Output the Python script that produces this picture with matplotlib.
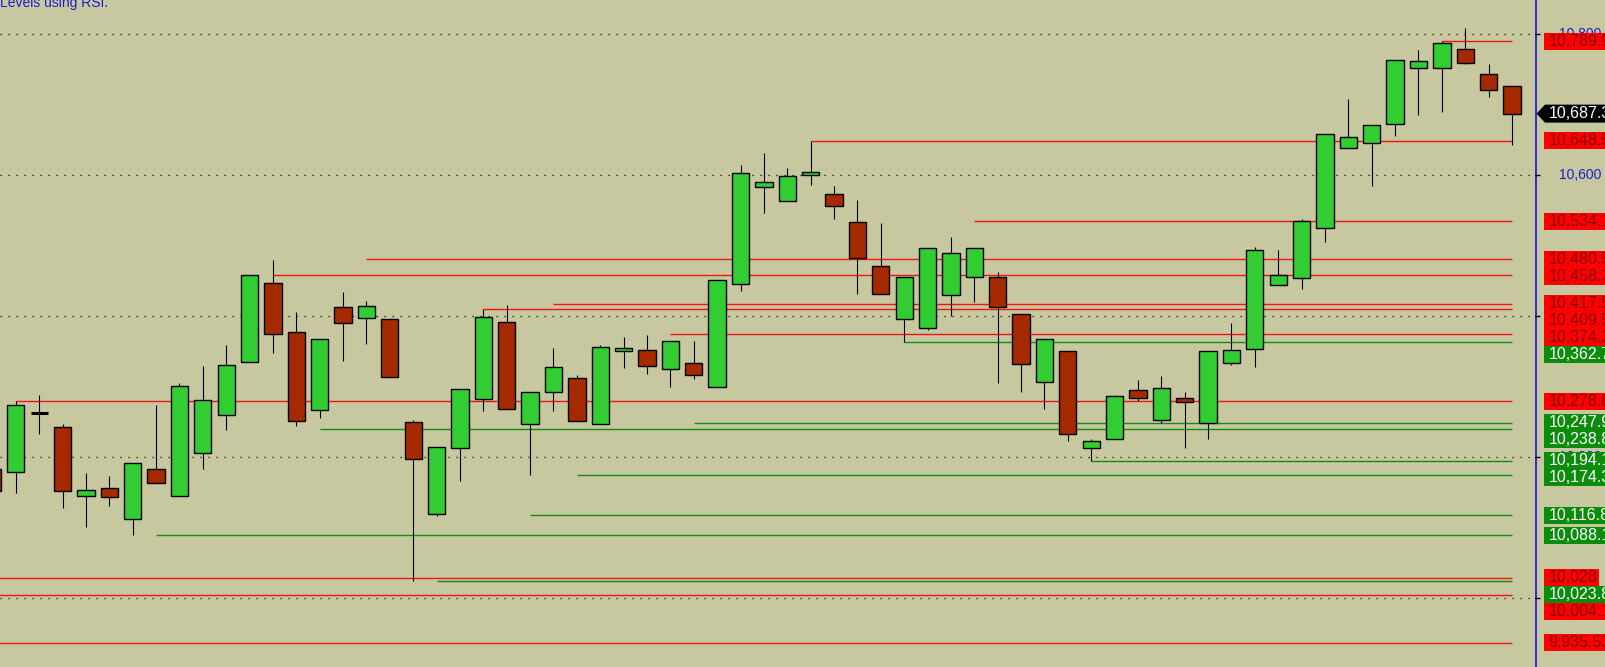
import matplotlib.pyplot as plt
from matplotlib.patches import Rectangle, Polygon

plt.rcParams['font.family'] = ['Liberation Sans', 'DejaVu Sans']

# daily bars, bar 0 is only partly visible at the left edge
opens = [10182.5, 10177.8, 10262.5, 10241.7, 10144.6, 10155.1, 10111, 10182.1, 10144.6, 10204.8,
         10258.8, 10334.1, 10446.3, 10376.7, 10265.9, 10412.2, 10396.6, 10395.2, 10248.8, 10119,
         10212.8, 10281.5, 10391.7, 10246, 10291.5, 10311.3, 10246, 10350.6, 10351.1, 10325,
         10332.7, 10298.6, 10444.9, 10582.7, 10562.8, 10599.7, 10572.7, 10532.9, 10470.4, 10395.2,
         10383.2, 10429.2, 10454.8, 10454.8, 10402.3, 10305.7, 10349.7, 10211.9, 10224.7, 10294.3,
         10252.5, 10282.9, 10247.4, 10332.7, 10352.5, 10443.5, 10453.4, 10524.4, 10638.1, 10646,
         10673, 10752.6, 10752.6, 10778.7, 10743.2, 10726.1]
closes = [10151.3, 10273.4, 10262.5, 10150.8, 10152.3, 10142.3, 10190.6, 10162.2, 10300, 10280.1,
          10329.8, 10457.7, 10374.7, 10251.1, 10367.2, 10389.5, 10413.6, 10312.8, 10197.1, 10213.3,
          10295.7, 10398, 10267.3, 10291.5, 10327, 10250.3, 10355.4, 10354, 10328.4, 10363.9,
          10315.6, 10450.6, 10602.6, 10589.8, 10598.3, 10604, 10555.7, 10481.8, 10431.5, 10454.8,
          10496, 10488.9, 10496, 10412.2, 10331.2, 10366.7, 10231.8, 10221.9, 10285.8, 10282.9,
          10297.1, 10278.1, 10349.7, 10351.1, 10493.2, 10457.7, 10534.4, 10658, 10653.7, 10670.7,
          10763.1, 10761.6, 10787.2, 10759.7, 10721.3, 10687.3]
highs = [10185, 10278.8, 10287.6, 10246.4, 10176.8, 10172.6, 10190.6, 10273.4, 10304.2, 10328.8,
         10358.2, 10458.3, 10479.4, 10405.5, 10367.2, 10433.9, 10421.2, 10395.2, 10252.1, 10213.3,
         10295.7, 10409.5, 10415, 10291.5, 10354, 10316, 10358.6, 10370, 10373.3, 10363.9,
         10364.3, 10450.6, 10614.3, 10631, 10610.1, 10648.5, 10584.5, 10564.2, 10532, 10454.8,
         10496, 10512.1, 10496, 10461.9, 10402.3, 10366.7, 10349.7, 10225.1, 10287.2, 10308.9,
         10314.6, 10291.5, 10349.7, 10389.5, 10497.4, 10493.6, 10537.2, 10658, 10708.1, 10670.7,
         10763.1, 10777.7, 10789.9, 10808.9, 10757.4, 10726.1]
lows = [10148, 10148.8, 10231.8, 10127.5, 10100.5, 10129.9, 10088.1, 10162.2, 10144.6, 10182.1,
        10237.9, 10334.1, 10347.7, 10244, 10255.4, 10336.3, 10360.5, 10312.8, 10023.8, 10116.2,
        10165.9, 10265.3, 10267.3, 10173.6, 10265.3, 10250.3, 10246, 10326.4, 10317, 10299.4,
        10309.9, 10298.6, 10435.8, 10545.7, 10562.8, 10585.5, 10538.1, 10431.5, 10431.5, 10362.7,
        10380.4, 10400.3, 10420.2, 10305.1, 10291.5, 10268.2, 10221.9, 10194.1, 10224.7, 10279.5,
        10248.3, 10212.8, 10224.7, 10330.7, 10327.8, 10443.5, 10438.6, 10505.4, 10638.1, 10584.9,
        10656, 10685.4, 10690.1, 10758.2, 10711.4, 10643.2]

# RSI levels (value, bar where the line starts)
red_levels = [10789.9, 10648.5, 10534.1, 10480.5, 10458.3, 10417.5, 10409.5, 10374.3, 10278.8, 10028, 10004.1, 9935.53]
red_starts = [62, 35, 42, 16, 12, 24, 21, 29, 1, 0, 0, 0]
green_levels = [10362.7, 10247.9, 10238.8, 10194.1, 10174.3, 10116.8, 10088.1, 10023.8]
green_starts = [39, 30, 14, 47, 25, 23, 7, 19]

grid_levels = [10000, 10200, 10400, 10600, 10800]
title = "Levels using RSI."

BG = '#c8c8a0'
UP = '#32cd32'
DOWN = '#a62a00'
LRED = '#f01414'
LGREEN = '#148c14'
BRED = '#ff0000'
BGREEN = '#0b8c0b'
BLUE = '#1c1cd0'

W, H = 1605, 667
AXW = 1535
fig = plt.figure(figsize=(W / 100, H / 100), dpi=100, facecolor=BG)
ax = fig.add_axes([0, 0, AXW / W, 1])
ax.set_facecolor(BG)
for s in ax.spines.values():
    s.set_visible(False)
ax.set_xticks([])
ax.set_yticks([])

ymin, ymax = 9901.3, 10848.7
ax.set_ylim(ymin, ymax)
step = 23.378
xmin = 1 - 15.8 / step
ax.set_xlim(xmin, xmin + AXW / step)
ppu = H / (ymax - ymin)  # pixels per price unit

n = len(opens)
xs = list(range(n))
last = n - 1

# dotted grid
for g in grid_levels:
    ax.axhline(g, color='black', lw=0.9, ls=(0, (1, 5.4)), zorder=0.5)

# level lines
ax.hlines(red_levels, red_starts, last, colors=LRED, lw=1.0, zorder=1)
ax.hlines(green_levels, green_starts, last, colors=LGREEN, lw=1.0, zorder=1)

# candles
ax.vlines(xs, lows, highs, colors='black', lw=0.8, zorder=2)
bw = 0.74
for x, o, c in zip(xs, opens, closes):
    if o == c:
        ax.hlines(o, x - bw / 2, x + bw / 2, colors='black', lw=2.2, zorder=3)
        continue
    col = UP if c > o else DOWN
    ax.bar(x, c - o, bottom=o, width=bw, color=col, edgecolor='black', lw=1.0, zorder=3)

fig.text(0, 1 - 7 / H, title, color=BLUE, fontsize=10, va='baseline', ha='left')

# right price axis
rax = fig.add_axes([AXW / W, 0, (W - AXW) / W, 1])
rax.set_facecolor(BG)
rax.set_xlim(AXW, W)
rax.set_ylim(ymin, ymax)
rax.axis('off')
rax.axvline(AXW + 0.5, color='#1010e0', lw=1.2, zorder=1)
rax.hlines(grid_levels, AXW, AXW + 5, colors='black', lw=1.0, zorder=1)
for g in grid_levels:
    rax.text(1559, g, f"{g:,}", color=BLUE, fontsize=10, va='center', ha='left', zorder=1)

labels = [(v, 'r') for v in red_levels] + [(v, 'g') for v in green_levels] + [(closes[-1], 'k')]
labels.sort(key=lambda t: -t[0])
gap = 17 / ppu
half = 8.5 / ppu
fig.canvas.draw()
renderer = fig.canvas.get_renderer()
prev = None
for v, kind in labels:
    y = v if prev is None else min(v, prev - gap)
    prev = y
    if kind == 'r':
        fc, tc = BRED, '#8a0000'
    elif kind == 'g':
        fc, tc = BGREEN, 'white'
    else:
        fc, tc = 'black', 'white'
    t = rax.text(1548.5, y, f"{v:,}", color=tc, fontsize=11.5, va='center', ha='left', zorder=4)
    tw = t.get_window_extent(renderer).width
    if kind == 'k':
        hk = 9 / ppu
        rax.add_patch(Polygon([(AXW + 1.5, y), (1545, y + hk), (W + 5, y + hk), (W + 5, y - hk), (1545, y - hk)],
                              closed=True, fc=fc, ec='none', zorder=3))
    else:
        rax.add_patch(Rectangle((1544, y - half), tw + 6, 2 * half, fc=fc, ec='none', zorder=3))

fig.savefig('out.png', dpi=100, facecolor=BG)
